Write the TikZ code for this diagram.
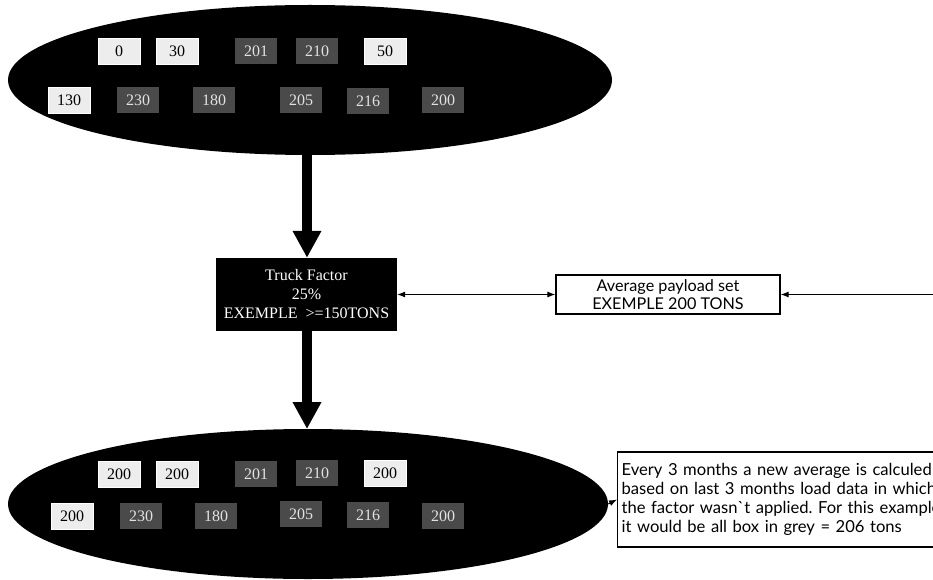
\documentclass[tikz,border=0pt]{standalone}
\usepackage{fontspec}
\setmainfont{Liberation Serif}
\newfontfamily\humsans{Lato}
\usetikzlibrary{shapes.geometric,arrows.meta}
\definecolor{lightbox}{HTML}{EDEDED}
\definecolor{darkbox}{HTML}{4A4A4A}
\definecolor{darktext}{HTML}{E2E2E2}
\tikzset{
  blob/.style={ellipse, fill=black, inner sep=0pt},
  lbox/.style={fill=lightbox, draw=white, line width=0.6pt, minimum width=42pt, minimum height=26pt, inner sep=0pt, font=\fontsize{16}{18}\selectfont, text=black},
  dbox/.style={fill=darkbox, minimum width=42pt, minimum height=26pt, inner sep=0pt, font=\fontsize{16}{18}\selectfont, text=darktext},
  bigarrow/.style={line width=10pt, -{Triangle[width=27pt,length=27pt]}},
  thinarrow/.style={line width=1pt, -{Latex[width=6pt,length=8pt]}},
}
\begin{document}
\begin{tikzpicture}[x=1pt,y=-1pt]
\useasboundingbox (0,0) rectangle (933,580);
% top ellipse
\node[blob, minimum width=604pt, minimum height=150pt] (top) at (310,80) {};
\node[lbox] (t1) at (119,51) {0};
\node[lbox] (t2) at (177,51) {30};
\node[dbox] (t3) at (256,51) {201};
\node[dbox] (t4) at (317,51) {210};
\node[lbox] (t5) at (385,51) {50};
\node[lbox] (t6) at (69,100) {130};
\node[dbox] (t7) at (138,100) {230};
\node[dbox] (t8) at (214,100) {180};
\node[dbox] (t9) at (301,100) {205};
\node[dbox] (t10) at (368,101) {216};
\node[dbox] (t11) at (443,100) {200};
% truck factor
\node[fill=black, text=white, minimum width=181pt, minimum height=73pt, inner sep=0pt, align=center, font=\fontsize{16}{19}\selectfont] (truck) at (306.5,294.5) {Truck Factor\\25\%\\EXEMPLE\ \ >=150TONS};
% payload
\node[draw=black, line width=1.2pt, minimum width=224pt, minimum height=39pt, inner sep=0pt, align=center, font=\humsans\fontsize{16.2}{18}\selectfont] (pay) at (668,294.5) {Average payload set\\EXEMPLE 200 TONS};
\coordinate (rightend) at (934,294.5);
% bottom ellipse
\node[blob, minimum width=600pt, minimum height=150pt] (bot) at (308,504) {};
\node[lbox] (b1) at (119,474) {200};
\node[lbox] (b2) at (177,474) {200};
\node[dbox] (b3) at (256,474) {201};
\node[dbox] (b4) at (317,473) {210};
\node[lbox] (b5) at (385,473) {200};
\node[lbox] (b6) at (72,516) {200};
\node[dbox] (b7) at (141,516) {230};
\node[dbox] (b8) at (216,516) {180};
\node[dbox] (b9) at (301,514) {205};
\node[dbox] (b10) at (368,515) {216};
\node[dbox] (b11) at (443,516) {200};
% comment
\node[draw=black, line width=1.2pt, anchor=west, text width=340pt, minimum height=95pt, inner sep=4pt, align=left, font=\humsans\fontsize{16.6}{19}\selectfont] (note) at (617,499.5) {Every 3 months a new average is calculed\\based on last 3 months load data in which\\the factor wasn`t applied.\ For this example\\it would be all box in grey = 206 tons};
% connectors
\draw[bigarrow] (307,155) -- (truck.north -| 307,0);
\draw[bigarrow] (truck.south -| 307,0) -- (307,429);
\draw[line width=1pt, {Latex[width=6pt,length=8pt]}-{Latex[width=6pt,length=8pt]}] (truck.east) -- (pay.west);
\draw[thinarrow] (rightend) -- (pay.east);
\draw[thinarrow] (bot.east) -- (note.west);
\end{tikzpicture}
\end{document}
